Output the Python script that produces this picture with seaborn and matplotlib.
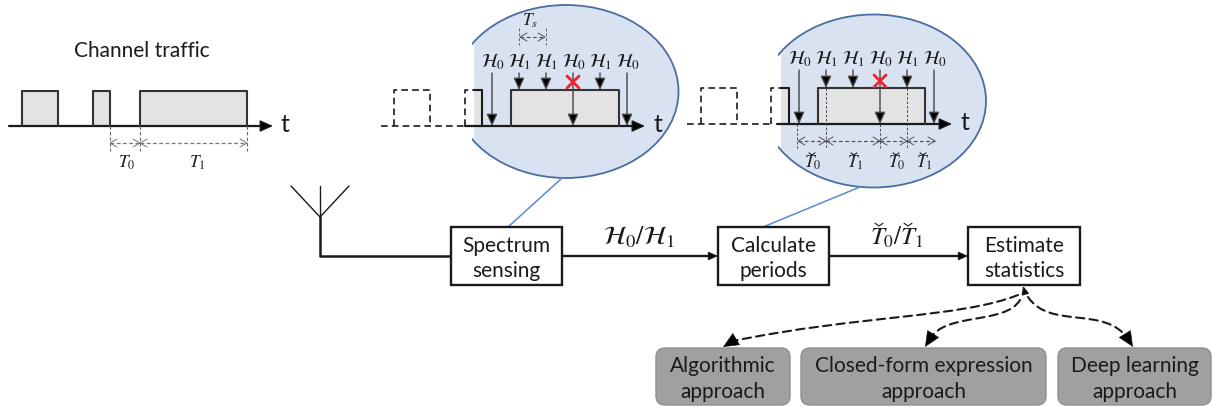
import matplotlib
matplotlib.use("Agg")
import matplotlib.pyplot as plt
import seaborn as sns
from matplotlib.patches import Ellipse, FancyArrowPatch, FancyBboxPatch, Rectangle
from matplotlib.path import Path

sns.set_theme(style="white")
plt.rcParams["font.family"] = ["Lato", "DejaVu Sans"]
plt.rcParams["mathtext.fontset"] = "stix"

INK = "#1a1a1a"
PULSE = "#e3e3e3"
BUBBLE = "#d9e2f1"
BUBBLE_EDGE = "#4a6ea3"
LINK = "#5b8bd0"

T0 = "$T_0$"
T1 = "$T_1$"

# pulses as (left, right)
traffic_pulses = [(22, 58), (93, 110), (140, 247)]
traffic_periods = [(110, 140, T0, 127), (140, 247, T1, 197)]

h0 = r"$\mathcal{H}_0$"
h1 = r"$\mathcal{H}_1$"
sense_labels = [h0, h1, h1, h0, h1, h0]
sense_is_idle = [True, False, False, True, False, True]

left_sense_x = [492, 519, 546, 573, 600, 627]
right_sense_x = [799, 826, 853, 880, 907, 934]

est_periods = [(798, 826, T0, 813),
               (826, 880, T1, 855),
               (880, 907, T0, 897),
               (907, 935, T1, 924)]

flow_boxes = [(451, 562, "Spectrum\nsensing"),
              (718, 829, "Calculate\nperiods"),
              (968, 1080, "Estimate\nstatistics")]
approach_boxes = [(656, 790, "Algorithmic\napproach"),
                  (801, 1046, "Closed-form expression\napproach"),
                  (1058, 1211, "Deep learning\napproach")]

fig, ax = plt.subplots(figsize=(12.12, 4.07), dpi=100)
fig.subplots_adjust(0, 0, 1, 1)


def trace(xs, ys, color=INK, lw=1.5, ls="-", zorder=3):
    sns.lineplot(x=xs, y=ys, sort=False, estimator=None, ax=ax, color=color,
                 linewidth=lw, linestyle=ls, legend=False, zorder=zorder)


def arrow(start, end, lw=1.0, color=INK, size=9, zorder=4):
    ax.add_patch(FancyArrowPatch(start, end, arrowstyle="-|>,head_length=0.8,head_width=0.36",
                                 mutation_scale=size, lw=lw, color=color, fc="black", ec=color,
                                 shrinkA=0, shrinkB=0, zorder=zorder))


def pulse(left, right, top, base):
    ax.add_patch(Rectangle((left, top), right - left, base - top, fc=PULSE, ec="none", zorder=2))


def dim(x0, x1, y, color="#555555"):
    trace([x0, x1], [y, y], color=color, lw=0.9, ls=(0, (3, 2)))
    trace([x0 + 7, x0, x0 + 7], [y - 4, y, y + 4], color=color, lw=0.7)
    trace([x1 - 7, x1, x1 - 7], [y - 4, y, y + 4], color=color, lw=0.7)


def bubble(cx, cy, cut_x, fill_x):
    body = Ellipse((cx, cy), 225, 173, fc=BUBBLE, ec="none", zorder=1)
    ax.add_patch(body)
    body.set_clip_path(Rectangle((fill_x, 0), 400, 407, transform=ax.transData))
    edge = Ellipse((cx, cy), 225, 173, fc="none", ec=BUBBLE_EDGE, lw=1.3, zorder=1.5)
    ax.add_patch(edge)
    edge.set_clip_path(Rectangle((cut_x, 0), 400, 407, transform=ax.transData))


def zoomed_axis(x_dash0, x_dash1, solid0, arrow_end, base, top, small, big, fill_x):
    dashes = (0, (4, 2.5))
    trace([x_dash0, x_dash1], [base, base], lw=1.2, ls=dashes)
    trace([solid0, arrow_end - 8], [base, base], lw=1.6)
    arrow((arrow_end - 10, base), (arrow_end, base), size=10)
    trace([small[0], small[0], small[1], small[1]], [base, top, top, base], lw=1.2, ls=dashes)
    trace([big[0], big[0], fill_x], [base, top, top], lw=1.2, ls=dashes)
    trace([fill_x, big[1], big[1]], [top, top, base])
    pulse(fill_x, big[1], top, base)


def caron(x, y, half):
    # accent over an estimated period symbol
    trace([x - half, x, x + half], [y - half * 0.7, y, y - half * 0.7], lw=0.8, zorder=5)


# left panel: raw traffic
ax.text(142, 51, "Channel traffic", ha="center", va="center", fontsize=15, color=INK)
trace([9, 264], [126, 126], lw=1.6)
arrow((262, 126), (273, 126), size=10)
for left, right in traffic_pulses:
    pulse(left, right, 91, 126)
    trace([left, left, right, right], [126, 91, 91, 126], color="#333333")
for x in (110, 140, 247):
    trace([x, x], [126, 151], color="#666666", lw=0.8, ls=(0, (3, 2)))
for x0, x1, label, lx in traffic_periods:
    dim(x0, x1, 143, color="#777777")
    ax.text(lx, 163, label, ha="center", va="center", fontsize=12.5, color=INK)
ax.text(285, 125, "t", ha="center", va="center", fontsize=18, color=INK)

# sensing bubble
bubble(566, 91.5, 472, 474)
zoomed_axis(381, 465, 465, 645, 126, 90, (394, 430), (465, 482), 474)
pulse(511, 619, 90, 126)
trace([511, 511, 619, 619], [126, 90, 90, 126], color="#333333")
ax.text(658, 125, "t", ha="center", va="center", fontsize=18, color=INK)
for x, label, idle in zip(left_sense_x, sense_labels, sense_is_idle):
    ax.text(x + 1, 62, label, ha="center", va="center", fontsize=13.5, color=INK)
    arrow((x, 73), (x, 126 if idle else 90), color="#444444", size=9)
trace([567, 579], [76, 88], color="#f0202c", lw=2, zorder=5)
trace([579, 567], [76, 88], color="#f0202c", lw=2, zorder=5)
trace([519, 519], [28, 45], color="#666666", lw=0.7, ls=(0, (3, 2)))
trace([546, 546], [28, 45], color="#666666", lw=0.7, ls=(0, (3, 2)))
dim(520, 545, 37)
ax.text(530, 21, "$T_s$", ha="center", va="center", fontsize=12.5, color=INK)

# estimation bubble
bubble(873.5, 101, 778, 781)
zoomed_axis(687, 772, 777, 952, 124, 88, (701, 737), (771, 789), 781)
pulse(818, 925, 88, 124)
trace([818, 818, 925, 925], [124, 88, 88, 124], color="#333333")
ax.text(965, 123, "t", ha="center", va="center", fontsize=18, color=INK)
for x, label, idle in zip(right_sense_x, sense_labels, sense_is_idle):
    ax.text(x + 1, 59, label, ha="center", va="center", fontsize=13.5, color=INK)
    arrow((x, 70), (x, 124 if idle else 88), color="#444444", size=9)
trace([874, 886], [75, 87], color="#f0202c", lw=2, zorder=5)
trace([886, 874], [75, 87], color="#f0202c", lw=2, zorder=5)
for x, y_top in [(797, 124), (826, 88), (880, 124), (907, 88)]:
    trace([x, x], [y_top, 148], color="#444444", lw=0.7, ls=(0, (2.5, 2)))
for x0, x1, label, lx in est_periods:
    dim(x0, x1, 141)
    ax.text(lx, 163, label, ha="center", va="center", fontsize=12.5, color=INK)
    caron(lx - 1, 155, 3)

# zoom leader lines
trace([508, 562], [227, 178], color=LINK, lw=1.1)
trace([763, 860], [227, 187], color=LINK, lw=1.1)

# antenna and receive chain
trace([291, 320, 349], [186, 217, 186], lw=1.0)
trace([320, 320], [186, 217], lw=1.0)
trace([320, 320, 451], [217, 256, 256], lw=1.8)
trace([562, 712], [256, 256], lw=1.7)
arrow((708, 256), (718, 256), size=7)
trace([829, 962], [256, 256], lw=1.7)
arrow((958, 256), (968, 256), size=7)
ax.text(639, 237, r"$\mathcal{H}_0/\mathcal{H}_1$", ha="center", va="center", fontsize=19, color=INK)
ax.text(897, 237, "$T_0/T_1$", ha="center", va="center", fontsize=18, color=INK)
caron(879, 226, 4)
caron(908, 226, 4)

for left, right, label in flow_boxes:
    ax.add_patch(Rectangle((left, 227), right - left, 58, fc="white", ec=INK, lw=1.7, zorder=3))
    ax.text((left + right) / 2, 258.5, label, ha="center", va="center", fontsize=15,
            linespacing=1.36, color=INK, zorder=4)

for left, right, label in approach_boxes:
    ax.add_patch(FancyBboxPatch((left + 6, 354), right - left - 12, 45,
                                boxstyle="round,pad=6,rounding_size=9",
                                fc="#a0a0a0", ec="#8e8e8e", lw=1, zorder=3))
    ax.text((left + right) / 2, 379, label, ha="center", va="center", fontsize=15,
            linespacing=1.36, color=INK, zorder=4)

# dashed links from the estimator
curves = [
    [(1018, 295), (960, 318), (860, 315), (733, 341)],
    [(1020, 300), (1005, 325), (945, 312), (930, 339)],
    [(1028, 297), (1050, 330), (1105, 305), (1128, 339)],
]
head_tips = [(723, 347), (925, 347), (1133, 347)]
for pts, tip in zip(curves, head_tips):
    codes = [Path.MOVETO, Path.CURVE4, Path.CURVE4, Path.CURVE4]
    ax.add_patch(FancyArrowPatch(path=Path(pts, codes), arrowstyle="-",
                                 lw=1.5, ls=(0, (4, 2.5)), ec=INK,
                                 shrinkA=0, shrinkB=0, zorder=4))
    arrow(pts[3], tip, size=13, lw=0.5)
arrow((1025, 293), (1023, 286), size=6)

ax.set_xlim(0, 1212)
ax.set_ylim(407, 0)
ax.axis("off")
fig.savefig("out.png", dpi=100)
